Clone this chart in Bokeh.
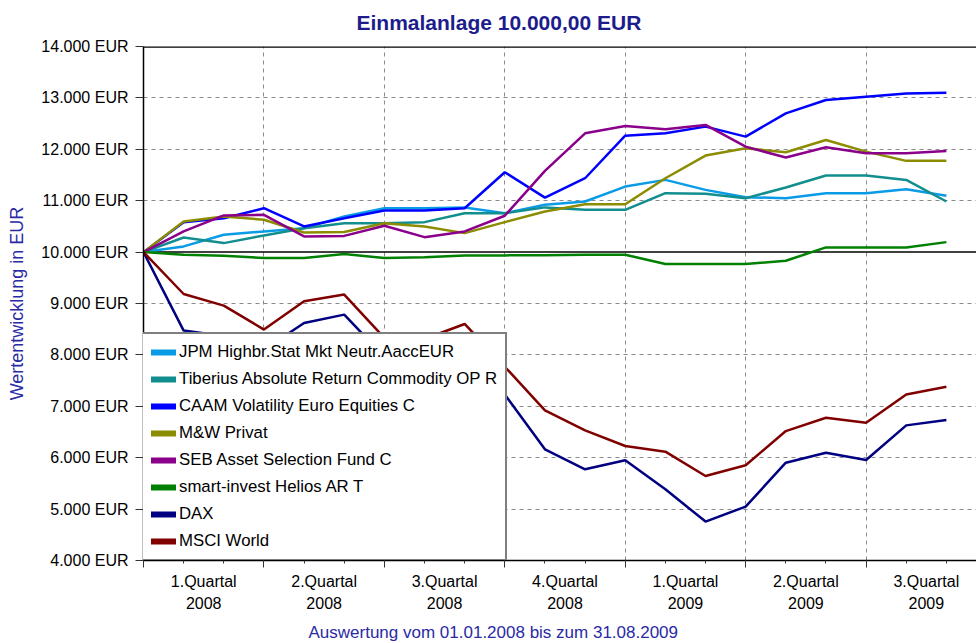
from bokeh.plotting import figure
from bokeh.models import (FixedTicker, LinearAxis, Span, Legend, LegendItem, Range1d, Title,
                          CustomLabelingPolicy)
from bokeh.embed import file_html
from bokeh.resources import INLINE

# ---- data (monthly values, 01.01.2008 .. 31.08.2009) ----
months = list(range(21))

series_names = [
    "JPM Highbr.Stat Mkt Neutr.AaccEUR",
    "Tiberius Absolute Return Commodity OP R",
    "CAAM Volatility Euro Equities C",
    "M&W Privat",
    "SEB Asset Selection Fund C",
    "smart-invest Helios AR T",
    "DAX",
    "MSCI World",
]

jpm = [10000, 10111, 10338, 10402, 10466, 10693, 10854, 10854, 10867, 10757, 10920,
       10984, 11275, 11405, 11211, 11068, 11049, 11146, 11146, 11223, 11095]
tiberius = [10000, 10285, 10175, 10324, 10466, 10563, 10563, 10583, 10757, 10757, 10870,
            10823, 10823, 11146, 11133, 11049, 11256, 11489, 11489, 11405, 10984]
caam = [10000, 10583, 10660, 10854, 10499, 10660, 10810, 10810, 10854, 11553, 11060,
        11437, 12266, 12311, 12441, 12247, 12700, 12959, 13023, 13087, 13101]
mw = [10000, 10596, 10693, 10629, 10382, 10392, 10563, 10499, 10369, 10583, 10790,
      10932, 10932, 11437, 11878, 12019, 11942, 12182, 11955, 11775, 11775]
seb = [10000, 10402, 10713, 10726, 10305, 10315, 10512, 10291, 10402, 10707, 11580,
       12311, 12454, 12388, 12474, 12052, 11839, 12039, 11922, 11922, 11969]
smart = [10000, 9949, 9930, 9884, 9884, 9961, 9884, 9900, 9936, 9936, 9940,
         9949, 9949, 9767, 9767, 9767, 9832, 10091, 10091, 10091, 10194]
dax = [10000, 8473, 8370, 8100, 8621, 8784, 7960, 8030, 7960, 7231, 6163,
       5775, 5950, 5386, 4757, 5049, 5903, 6097, 5955, 6629, 6732]
msci = [10000, 9185, 8959, 8493, 9043, 9173, 8330, 8310, 8602, 7770, 6920,
        6532, 6227, 6117, 5645, 5852, 6518, 6777, 6680, 7231, 7379]

series_values = [jpm, tiberius, caam, mw, seb, smart, dax, msci]
series_colors = ["#0A9BE6", "#138E8E", "#0000FF", "#8C8C00", "#8B008B", "#008000", "#000080", "#800000"]

quarter_labels = ["1.Quartal", "2.Quartal", "3.Quartal", "4.Quartal", "1.Quartal", "2.Quartal", "3.Quartal"]
quarter_years = ["2008", "2008", "2008", "2008", "2009", "2009", "2009"]
y_ticks = list(range(4000, 14001, 1000))

title_text = "Einmalanlage 10.000,00 EUR"
caption_text = "Auswertung vom 01.01.2008 bis zum 31.08.2009"
ylabel_text = "Wertentwicklung in EUR"

FONT = "Liberation Sans"
BLUE_TXT = "#2A2AA5"

p = figure(width=976, height=643, x_range=Range1d(0, 20.75), y_range=Range1d(4000, 14000),
           output_backend="svg", toolbar_location=None,
           min_border_left=143, min_border_right=0, min_border_top=45, min_border_bottom=83)
p.outline_line_color = None
p.background_fill_color = "white"
p.border_fill_color = "white"

# title
p.title.text = title_text
p.title.align = "left"
p.title.offset = 213
p.title.vertical_align = "top"
p.title.standoff = 21
p.title.text_font = FONT
p.title.text_font_size = "21px"
p.title.text_font_style = "bold"
p.title.text_color = "#1C1C8C"

# x axis: quarter boundary ticks, monthly minor ticks (no labels on this one)
q_bounds = [3 * k for k in range(8)]
q_mids = [3 * k + 1.5 for k in range(len(quarter_labels))]
hide_all = CustomLabelingPolicy(code="""
const a = Array.from(indices)
for (const i of a) indices.unset(i)
return indices
""")
xa = p.xaxis[0]
xa.ticker = FixedTicker(ticks=q_bounds, minor_ticks=months)
xa.major_label_policy = hide_all
xa.major_tick_out = 7
xa.major_tick_in = 0
xa.minor_tick_out = 3
xa.minor_tick_in = 0
xa.major_label_text_font_size = "2px"
xa.major_label_standoff = 0
xa.axis_line_color = "black"
xa.axis_line_width = 1.5
xa.major_tick_line_color = "#333333"
xa.minor_tick_line_color = "#333333"

for labels, standoff in ((quarter_labels, 1), (quarter_years, 4)):
    ax = LinearAxis(ticker=FixedTicker(ticks=q_mids, minor_ticks=[]),
                    major_label_overrides={m: t for m, t in zip(q_mids, labels)},
                    axis_line_color=None, major_tick_line_color=None, minor_tick_line_color=None,
                    major_tick_out=0, major_tick_in=0, minor_tick_out=0, minor_tick_in=0,
                    major_label_standoff=standoff, major_label_text_font=FONT,
                    major_label_text_font_size="16px", major_label_text_color="black")
    p.add_layout(ax, "below")

# bottom caption
p.add_layout(Title(text=caption_text, align="left", offset=165, vertical_align="top",
                   standoff=0, padding=(0, 0, 11, 0), text_font=FONT, text_font_size="17px",
                   text_font_style="normal", text_color=BLUE_TXT), "below")

# y axis
ya = p.yaxis[0]
ya.ticker = FixedTicker(ticks=y_ticks, minor_ticks=[])
ya.major_label_overrides = {v: f"{v:,}".replace(",", ".") + " EUR" for v in y_ticks}
ya.major_tick_out = 8
ya.major_tick_in = 0
ya.major_label_standoff = 7
ya.major_label_text_font = FONT
ya.major_label_text_font_size = "16px"
ya.major_label_text_color = "black"
ya.axis_line_color = "black"
ya.axis_line_width = 1.5
ya.major_tick_line_color = "#333333"
ya.axis_label = ylabel_text
ya.axis_label_text_font = FONT
ya.axis_label_text_font_size = "18px"
ya.axis_label_text_font_style = "normal"
ya.axis_label_text_color = BLUE_TXT
ya.axis_label_standoff = 11

# grids
p.xgrid.ticker = FixedTicker(ticks=q_bounds[1:7])
p.ygrid.ticker = FixedTicker(ticks=[v for v in y_ticks if v not in (4000, 10000, 14000)])
for g in (p.xgrid[0], p.ygrid[0]):
    g.grid_line_color = "#8A8A8A"
    g.grid_line_dash = "4 4"
    g.grid_line_width = 1

p.add_layout(Span(location=10000, dimension="width", line_color="black", line_width=1.5, level="underlay"))
p.add_layout(Span(location=14000, dimension="width", line_color="black", line_width=2.5))

# lines
items = []
for name, vals, col in zip(series_names, series_values, series_colors):
    p.line(months, vals, line_color=col, line_width=2.5)
    swatch = p.line([-5, -4], [0, 0], line_color=col, line_width=6, line_cap="round")
    items.append(LegendItem(label=name, renderers=[swatch]))

legend = Legend(items=items, location=(-2, -1), border_line_color="black", border_line_width=2,
                background_fill_color="white", background_fill_alpha=1.0,
                label_text_font=FONT, label_text_font_size="16.8px", label_text_color="black",
                glyph_width=25, glyph_height=20, label_height=20, spacing=7, padding=8,
                margin=0, label_standoff=3)
p.add_layout(legend)

open("out.html", "w").write(file_html(p, INLINE))
